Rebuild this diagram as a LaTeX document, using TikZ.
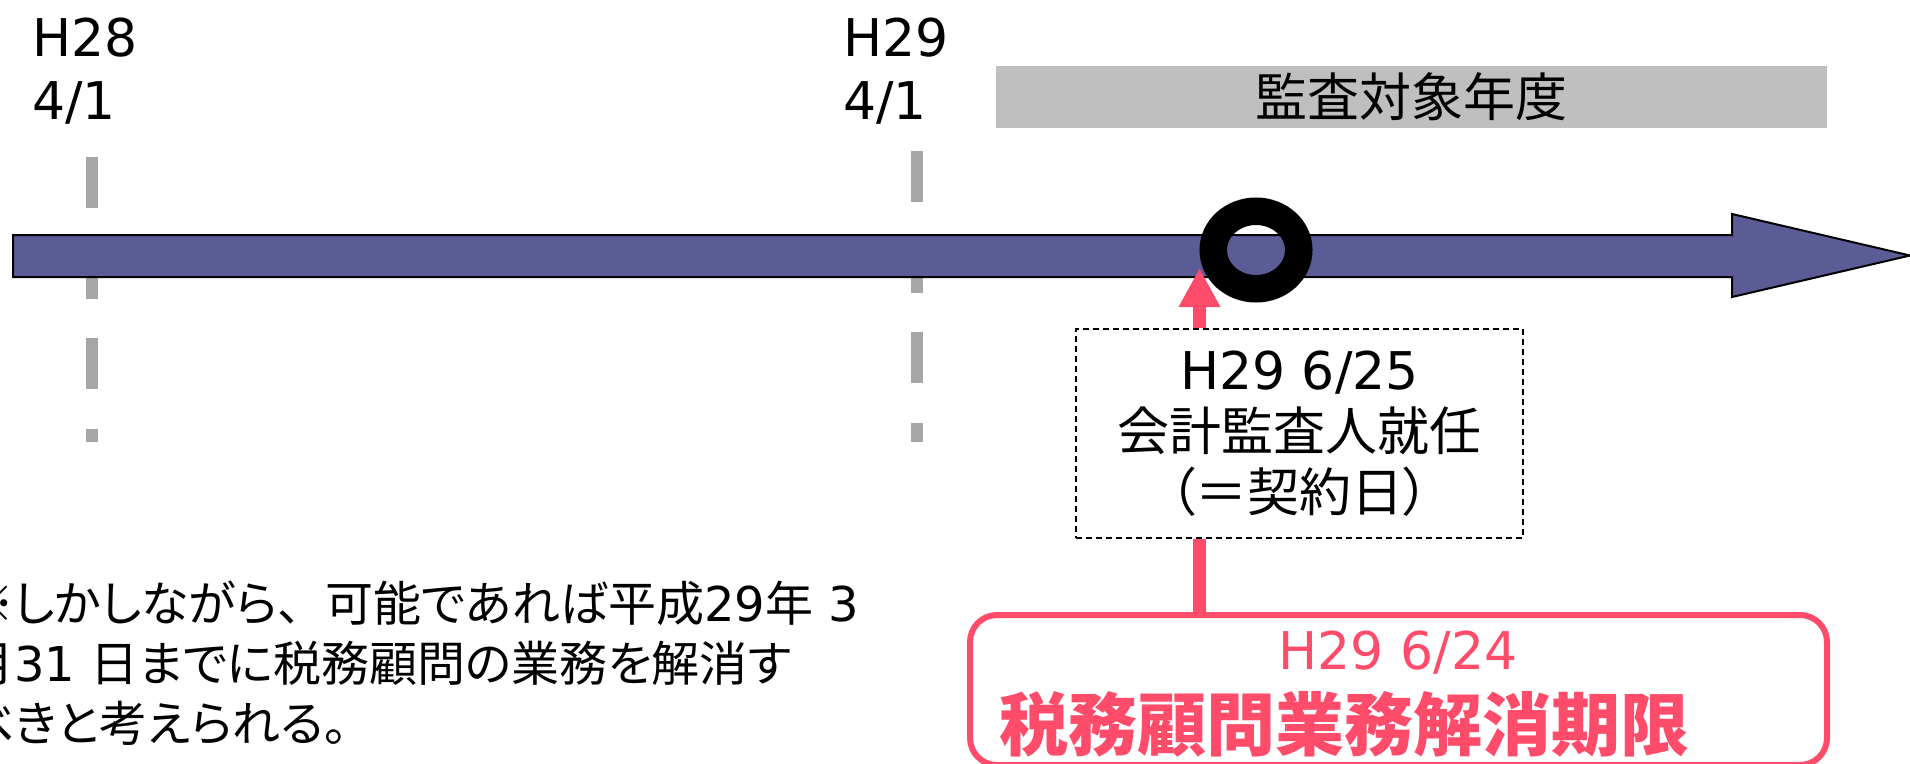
\documentclass[tikz,border=0pt]{standalone}
\usepackage{fontspec}
\setmainfont{Noto Sans CJK JP}[RawFeature=+palt]
\newfontfamily\lat{DejaVu Sans}
\usetikzlibrary{arrows.meta}

\definecolor{barblue}{RGB}{91,92,150}
\definecolor{fygray}{RGB}{191,191,191}
\definecolor{tickgray}{RGB}{166,166,166}
\definecolor{alertpink}{RGB}{255,76,106}

\begin{document}
\begin{tikzpicture}[x=1pt,y=-1pt,
    datetick/.style={draw=tickgray,line width=12pt,dash pattern=on 51pt off 39.5pt},
    datelbl/.style={inner sep=0pt,align=left,font=\lat\fontsize{52}{63}\selectfont},
    bar/.style={draw=black,fill=barblue,line width=2pt},
    fybox/.style={fill=fygray,minimum width=831pt,minimum height=62pt,inner sep=0pt,
      font=\fontsize{52}{61}\selectfont},
    apptbox/.style={draw=black,line width=1.5pt,dash pattern=on 6pt off 4pt,
      minimum width=447pt,minimum height=209pt,inner sep=0pt,align=center,
      font=\fontsize{52}{61}\selectfont},
    limitbox/.style={draw=alertpink,line width=6pt,rounded corners=27pt,
      minimum width=857pt,minimum height=150pt},
    pinkarrow/.style={draw=alertpink,line width=13pt,-{Triangle[width=39pt,length=39pt]}},
    pinkline/.style={draw=alertpink,line width=13pt},
    note/.style={inner sep=0pt,align=left,font=\fontsize{48}{60}\selectfont}]
  \path[use as bounding box,fill=white] (0,0) rectangle (1910,763);
  \clip (0,0) rectangle (1910,763);

  % dates on the line
  \node[datelbl,anchor=west] (h28) at (32,71) {H28\\4/1};
  \node[datelbl,anchor=west] (h29) at (843,71) {H29\\4/1};
  \draw[datetick] (92,157) -- (92,442);
  \draw[datetick] (917,151) -- (917,442);

  % time line
  \draw[bar] (13,235) -- (1732,235) -- (1732,214) -- (1910,255.5)
    -- (1732,297) -- (1732,277) -- (13,277) -- cycle;
  \node[fybox] (fy) at (1411.5,97) {監査対象年度};

  \node[apptbox] (appt) at (1299.5,433.5) {{\lat H29 6/25}\\会計監査人就任\\（＝契約日）};
  \node[limitbox] (limit) at (1398.5,690) {};
  \node[inner sep=0pt,text=alertpink,font=\lat\fontsize{52}{61}\selectfont] (limdate)
    at (1398,653) {H29 6/24};
  \node[inner sep=0pt,text=alertpink,font=\bfseries\fontsize{69}{69}\selectfont] (limtext)
    at (1344,724) {税務顧問業務解消期限};

  \coordinate (hit) at (1199.5,268);
  \coordinate (mark) at (1256,250);
  \draw[pinkarrow] (appt.north -| hit) -- (hit);
  \draw[pinkline] (limit.north -| hit) -- (appt.south -| hit);
  \draw[line width=27.5pt] (mark) ellipse [x radius=42.75, y radius=38.75];

  \node[note,anchor=west] (note) at (-34,663)
    {※しかしながら{\addfontfeature{RawFeature=-palt}、}可能であれば平成{\lat 29}年{\lat\ 3}\\
     月{\lat 31 }日までに税務顧問の業務を解消す\\
     べきと考えられる。};
\end{tikzpicture}
\end{document}
